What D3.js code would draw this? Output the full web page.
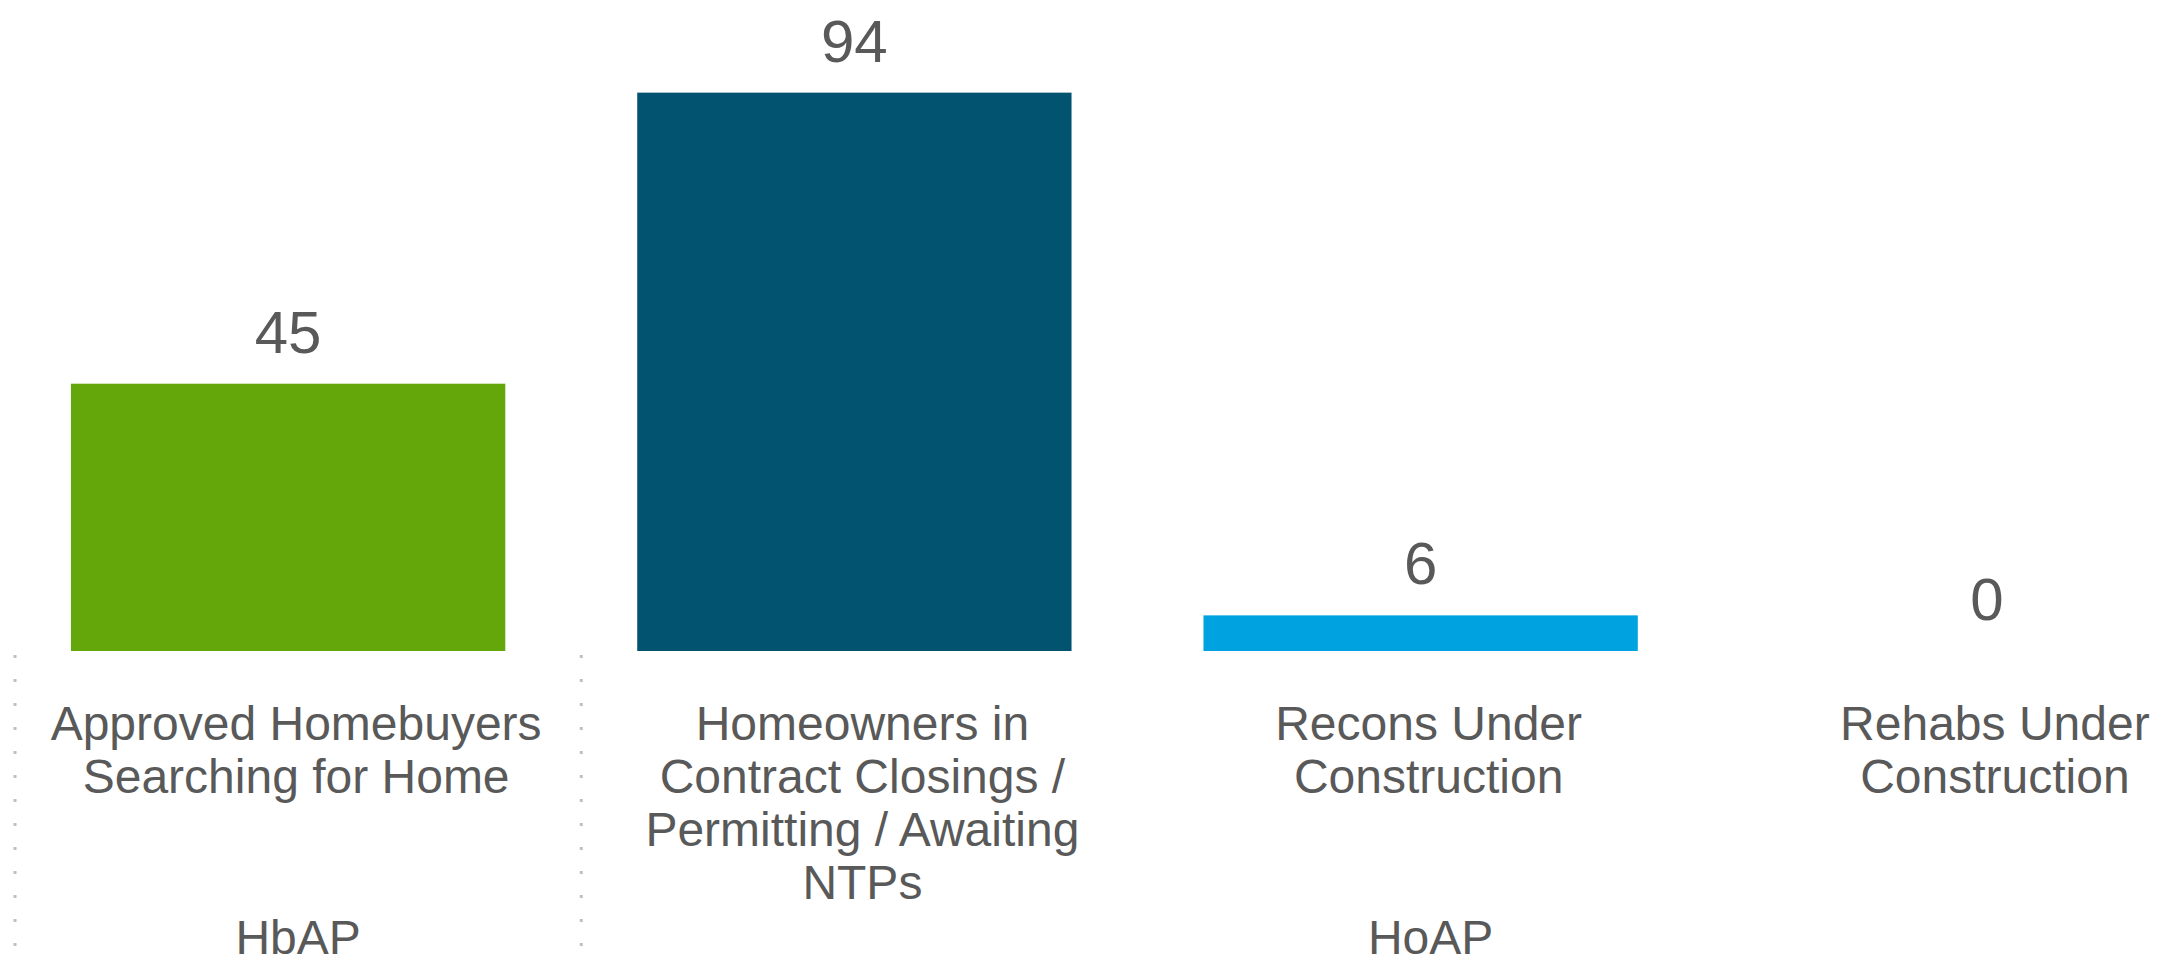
<!DOCTYPE html>
<html>
  <head>
    <meta charset='utf-8'>
    <style>
      body { margin: 0; background: #fff; }
      svg { display: block; }
    </style>
  </head>
  <body>
    <div id="chart"></div>
    <script src="https://d3js.org/d3.v7.min.js"></script>
    <script type="text/javascript">

      // --------------------------- data --------------------------
      var categories = ["Approved Homebuyers Searching for Home",
                        "Homeowners in Contract Closings / Permitting / Awaiting NTPs",
                        "Recons Under Construction",
                        "Rehabs Under Construction"];

      var labelLines = [["Approved Homebuyers", "Searching for Home"],
                        ["Homeowners in", "Contract Closings /", "Permitting / Awaiting", "NTPs"],
                        ["Recons Under", "Construction"],
                        ["Rehabs Under", "Construction"]];

      var values = [45, 94, 6, 0];

      var groupNames = ["HbAP", "HoAP"];
      var groupOf = ["HbAP", "HoAP", "HoAP", "HoAP"];

      // --------------------------- definitions --------------------------
      var width = 2161,
          height = 964,
          baseline = 651,
          offset = 8;   // labels and separators sit a little right of the bars

      var textColor = "#595959",
          font = "'Liberation Sans', Arial, Helvetica, sans-serif";

      var color = d3.scaleOrdinal()
          .domain(categories)
          .range(["#63a70a", "#02536f", "#00a3e0", "#00a3e0"]);

      var x = d3.scaleBand()
          .domain(categories)
          .range([5, 5 + 4 * 566.25])
          .paddingInner(0.233)
          .paddingOuter(0.1165);

      var y = d3.scaleLinear()
          .domain([0, 100])
          .range([baseline, 57]);

      var svg = d3.select("#chart")
        .append("svg")
        .attr("width", width)
        .attr("height", height)
        .style("font-family", font);

      var g = svg.append("g");

      // bars
      g.selectAll(".bar")
        .data(values).enter()
        .append("rect")
        .attr("class", "bar")
        .attr("x", function(d, i){ return x(categories[i]); })
        .attr("y", function(d){ return y(d); })
        .attr("width", x.bandwidth())
        .attr("height", function(d){ return y(0) - y(d); })
        .attr("fill", function(d, i){ return color(categories[i]); });

      // value labels
      g.selectAll(".value")
        .data(values).enter()
        .append("text")
        .attr("class", "value")
        .attr("x", function(d, i){ return x(categories[i]) + x.bandwidth() / 2; })
        .attr("y", function(d){ return y(d) - 31; })
        .attr("text-anchor", "middle")
        .attr("fill", textColor)
        .style("font-size", "60px")
        .text(function(d){ return d; });

      // category labels
      var labels = g.selectAll(".cat")
        .data(labelLines).enter()
        .append("text")
        .attr("class", "cat")
        .attr("text-anchor", "middle")
        .attr("fill", textColor)
        .style("font-size", "48px");

      labels.each(function(lines, i){
        var cx = x(categories[i]) + x.bandwidth() / 2 + offset;
        d3.select(this).selectAll("tspan")
          .data(lines).enter()
          .append("tspan")
          .attr("x", cx)
          .attr("y", function(d, j){ return 740 + j * 53; })
          .text(function(d){ return d; });
      });

      // group separators and group names
      var half = x.step() * x.paddingInner() / 2;
      var groupExtent = groupNames.map(function(name){
        var idx = [];
        groupOf.forEach(function(gname, i){ if (gname == name) idx.push(i); });
        var first = categories[idx[0]], last = categories[idx[idx.length - 1]];
        return {
          name: name,
          x0: x(first) - half + 10,
          x1: x(last) + x.bandwidth() + half + 10
        };
      });

      var seps = [];
      groupExtent.forEach(function(d){ seps.push(d.x0); });
      seps.push(groupExtent[groupExtent.length - 1].x1);

      g.selectAll(".sep")
        .data(seps).enter()
        .append("line")
        .attr("class", "sep")
        .attr("x1", function(d){ return d; })
        .attr("x2", function(d){ return d; })
        .attr("y1", 655)
        .attr("y2", height)
        .attr("stroke", "#c0c0c0")
        .attr("stroke-width", 3)
        .attr("stroke-dasharray", "3 21");

      g.selectAll(".grp")
        .data(groupExtent).enter()
        .append("text")
        .attr("class", "grp")
        .attr("x", function(d){ return (d.x0 + d.x1) / 2; })
        .attr("y", 954)
        .attr("text-anchor", "middle")
        .attr("fill", textColor)
        .style("font-size", "48px")
        .text(function(d){ return d.name; });

  </script>
  </body>
</html>
